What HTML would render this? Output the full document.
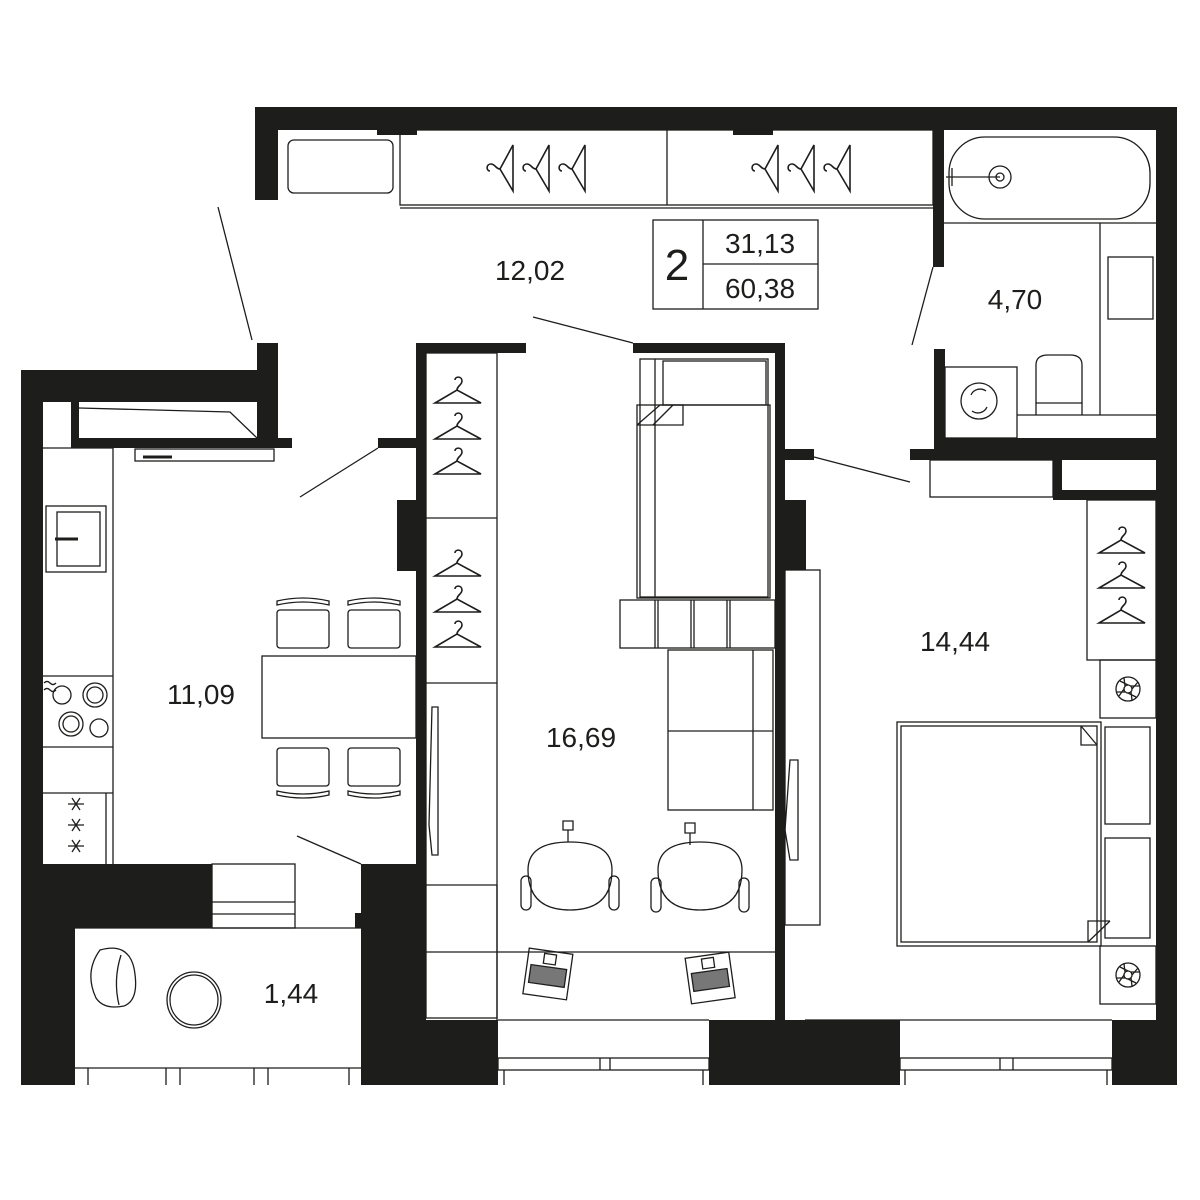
<!DOCTYPE html>
<html><head><meta charset="utf-8"><style>
html,body{margin:0;padding:0;background:#fff}
svg{display:block}
text{font-family:"Liberation Sans",sans-serif;fill:#1d1d1b}
</style></head><body>
<svg width="1200" height="1200" viewBox="0 0 1200 1200" xmlns="http://www.w3.org/2000/svg">
<defs>
<g id="hg" fill="none" stroke="#1d1d1b" stroke-width="1.6">
<path d="M-23,13 L-1,0 L23,13 Z" />
<path d="M-1,0 C-1,-4 4,-5 4,-9 C4,-14 -3,-14 -3,-10"/>
</g>
<g id="fan" fill="none" stroke="#1d1d1b" stroke-width="1.3">
<circle r="12"/><circle r="4"/>
<path d="M4,0 L10,-7 M0,4 L8,8 M-4,0 L-9,7 M0,-4 L-8,-8 M3,3 L4,11 M-3,-3 L-4,-11 M3,-3 L11,-3 M-3,3 L-11,3"/>
</g>
</defs>
<g fill="#1d1d1b">
<!-- top wall -->
<rect x="255" y="107" width="922" height="23"/>
<rect x="255" y="107" width="23" height="93"/>
<rect x="377" y="130" width="40" height="5"/>
<rect x="733" y="130" width="40" height="5"/>
<!-- right wall -->
<rect x="1156" y="107" width="21" height="978"/>
<!-- bath walls -->
<rect x="933" y="130" width="11" height="137"/>
<rect x="934" y="349" width="11" height="100"/>
<rect x="934" y="438" width="222" height="12"/>
<rect x="910" y="449" width="246" height="11"/>
<rect x="1053" y="460" width="9" height="40"/>
<rect x="1053" y="490" width="103" height="10"/>
<!-- bedroom left wall -->
<rect x="775" y="343" width="10" height="742"/>
<rect x="633" y="343" width="152" height="10"/>
<rect x="785" y="449" width="29" height="11"/>
<rect x="785" y="500" width="21" height="70"/>
<!-- living left wall -->
<rect x="416" y="343" width="10" height="742"/>
<rect x="416" y="343" width="110" height="10"/>
<rect x="397" y="500" width="20" height="71"/>
<rect x="378" y="438" width="40" height="10"/>
<!-- kitchen walls -->
<rect x="21" y="370" width="22" height="715"/>
<rect x="21" y="370" width="257" height="32"/>
<rect x="257" y="343" width="21" height="105"/>
<rect x="71" y="402" width="8" height="46"/>
<rect x="71" y="438" width="221" height="10"/>
<!-- bottom kitchen/balcony -->
<rect x="21" y="864" width="191" height="64"/>
<rect x="21" y="864" width="54" height="221"/>
<rect x="361" y="864" width="65" height="221"/>
<rect x="355" y="913" width="8" height="15"/>
<rect x="426" y="1020" width="72" height="65"/>
<rect x="709" y="1020" width="91" height="65"/>
<rect x="780" y="1020" width="120" height="65"/>
<rect x="1112" y="1020" width="65" height="65"/>
</g>
<g fill="none" stroke="#1d1d1b" stroke-width="1.3">
<!-- door swings -->
<line x1="218" y1="207" x2="252" y2="340"/>
<line x1="300" y1="497" x2="378" y2="448"/>
<line x1="933" y1="267" x2="912" y2="345"/>
<line x1="814" y1="457" x2="910" y2="482"/>
<line x1="533" y1="317" x2="633" y2="343"/>
<line x1="297" y1="836" x2="361" y2="864"/>
<!-- hall closet -->
<rect x="288" y="140" width="105" height="53" rx="6"/>
<rect x="400" y="130" width="533" height="75"/>
<line x1="667" y1="130" x2="667" y2="205"/>
<line x1="400" y1="208" x2="933" y2="208"/>
<!-- label box -->
<rect x="653" y="220" width="165" height="89"/>
<line x1="703" y1="220" x2="703" y2="309"/>
<line x1="703" y1="264" x2="818" y2="264"/>
<!-- hood vent box -->
<polyline points="79,408 230,412 257,438"/>
<rect x="135" y="449" width="139" height="12"/>
<line x1="143" y1="457" x2="172" y2="457" stroke-width="3"/>
<!-- kitchen counter -->
<line x1="43" y1="448" x2="113" y2="448"/>
<line x1="113" y1="448" x2="113" y2="864"/>
<rect x="46" y="506" width="60" height="66"/>
<rect x="57" y="512" width="43" height="54"/>
<line x1="55" y1="539" x2="78" y2="539" stroke-width="3"/>
<line x1="43" y1="676" x2="113" y2="676"/>
<line x1="43" y1="747" x2="113" y2="747"/>
<circle cx="62" cy="695" r="9"/>
<circle cx="95" cy="695" r="12"/><circle cx="95" cy="695" r="8"/>
<circle cx="71" cy="724" r="12"/><circle cx="71" cy="724" r="8"/>
<circle cx="99" cy="728" r="9"/>
<path d="M44,683 q3,-3 6,0 t6,0 M44,690 q3,-3 6,0 t6,0"/>
<line x1="43" y1="793" x2="113" y2="793"/>
<line x1="106" y1="793" x2="106" y2="864"/>
<path d="M68,804 h16 M72,798 l8,12 M80,798 l-8,12 M68,825 h16 M72,819 l8,12 M80,819 l-8,12 M68,846 h16 M72,840 l8,12 M80,840 l-8,12"/>
<!-- table & chairs -->
<rect x="262" y="656" width="154" height="82"/>
<rect x="277" y="610" width="52" height="38" rx="3"/><path d="M277,605 q26,-6 52,0 v-4 q-26,-6 -52,0 z"/>
<rect x="348" y="610" width="52" height="38" rx="3"/><path d="M348,605 q26,-6 52,0 v-4 q-26,-6 -52,0 z"/>
<rect x="277" y="748" width="52" height="38" rx="3"/><path d="M277,791 q26,6 52,0 v4 q-26,6 -52,0 z"/>
<rect x="348" y="748" width="52" height="38" rx="3"/><path d="M348,791 q26,6 52,0 v4 q-26,6 -52,0 z"/>
<!-- balcony -->
<rect x="212" y="864" width="83" height="64"/>
<line x1="212" y1="902" x2="295" y2="902"/><line x1="212" y1="914" x2="295" y2="914"/>
<line x1="75" y1="928" x2="361" y2="928"/>
<line x1="75" y1="1068" x2="361" y2="1068"/>
<path d="M88,1068 v17 M166,1068 v17 M180,1068 v17 M254,1068 v17 M268,1068 v17 M349,1068 v17"/>
<path d="M100,950 q28,-8 34,18 q6,32 -10,38 q-20,4 -28,-8 q-12,-26 4,-48 z"/>
<path d="M121,955 q-8,25 -2,50"/>
<ellipse cx="194" cy="1000" rx="27" ry="28"/><ellipse cx="194" cy="1000" rx="24" ry="25"/>
<!-- living closet -->
<rect x="426" y="353" width="71" height="665"/>
<line x1="426" y1="518" x2="497" y2="518"/>
<line x1="426" y1="683" x2="497" y2="683"/>
<line x1="426" y1="885" x2="497" y2="885"/>
<line x1="426" y1="952" x2="775" y2="952"/>
<line x1="497" y1="885" x2="497" y2="1020"/>
<path d="M432,707 h6 v148 h-6 l-3,-30 z"/>
<!-- bunk bed -->
<rect x="640" y="359" width="128" height="238"/>
<line x1="655" y1="359" x2="655" y2="597"/>
<rect x="663" y="361" width="103" height="44"/>
<rect x="637" y="405" width="133" height="193"/>
<polyline points="637,425 660,405 683,405 683,425 637,425"/>
<line x1="653" y1="425" x2="673" y2="405"/>
<rect x="620" y="600" width="155" height="48"/>
<path d="M655,600 v48 M658,600 v48 M691,600 v48 M694,600 v48 M727,600 v48 M730,600 v48"/>
<!-- sofa -->
<rect x="668" y="650" width="105" height="160"/>
<line x1="668" y1="731" x2="773" y2="731"/>
<line x1="753" y1="650" x2="753" y2="810"/>
<!-- desk chairs -->
<path d="M528,870 q0,-28 42,-28 q42,0 42,28 q0,40 -42,40 q-42,0 -42,-40 z"/>
<rect x="521" y="876" width="10" height="34" rx="5"/><rect x="609" y="876" width="10" height="34" rx="5"/>
<path d="M568,842 v-12 M563,830 h10 v-9 h-10 z"/>
<path d="M658,870 q0,-28 42,-28 q42,0 42,28 q0,40 -42,40 q-42,0 -42,-40 z"/>
<rect x="651" y="878" width="10" height="34" rx="5"/><rect x="739" y="878" width="10" height="34" rx="5"/>
<path d="M690,845 v-12 M685,833 h10 v-10 h-10 z"/>
<!-- laptops -->
<g transform="translate(548,973) rotate(8)"><rect x="-22" y="-22" width="44" height="46"/><rect x="-6" y="-19" width="12" height="10"/><rect x="-18" y="-6" width="36" height="18" fill="#777"/></g>
<g transform="translate(710,977) rotate(-8)"><rect x="-22" y="-22" width="44" height="46"/><rect x="-6" y="-19" width="12" height="10"/><rect x="-18" y="-6" width="36" height="18" fill="#777"/></g>
<!-- living window -->
<line x1="498" y1="1020" x2="709" y2="1020"/>
<rect x="498" y="1058" width="211" height="12"/>
<path d="M600,1058 v12 M610,1058 v12 M504,1070 v15 M703,1070 v15"/>
<!-- bath -->
<rect x="949" y="137" width="201" height="82" rx="36"/>
<circle cx="1000" cy="177" r="11"/><circle cx="1000" cy="177" r="4"/>
<path d="M946,177 h54 M952,168 v18"/>
<line x1="944" y1="223" x2="1156" y2="223"/>
<line x1="1100" y1="223" x2="1100" y2="415"/>
<rect x="1108" y="257" width="45" height="62"/>
<line x1="1017" y1="415" x2="1156" y2="415"/>
<rect x="945" y="367" width="72" height="71"/>
<circle cx="979" cy="401" r="18"/>
<path d="M971,395 a10,10 0 0 1 15,-4 M987,407 a10,10 0 0 1 -15,4"/>
<path d="M1036,365 q0,-10 12,-10 h22 q12,0 12,10 v38 h-46 z"/>
<line x1="1036" y1="403" x2="1036" y2="415"/><line x1="1082" y1="403" x2="1082" y2="415"/>
<!-- bedroom storage -->
<rect x="930" y="460" width="123" height="37"/>
<rect x="1087" y="500" width="69" height="160"/>
<rect x="1100" y="660" width="56" height="58"/>
<rect x="1100" y="946" width="56" height="58"/>
<rect x="785" y="570" width="35" height="355"/>
<path d="M790,760 h8 v100 h-8 l-5,-30 z"/>
<!-- bed -->
<rect x="897" y="722" width="204" height="224"/>
<rect x="901" y="726" width="196" height="216"/>
<polyline points="1081,726 1081,745 1097,745"/>
<line x1="1081" y1="726" x2="1097" y2="745"/>
<polyline points="1088,942 1088,921 1110,921"/>
<line x1="1088" y1="942" x2="1110" y2="921"/>
<rect x="1105" y="727" width="45" height="97"/>
<rect x="1105" y="838" width="45" height="100"/>
<!-- bedroom window -->
<line x1="805" y1="1020" x2="1112" y2="1020"/>
<rect x="900" y="1058" width="212" height="12"/>
<path d="M1000,1058 v12 M1013,1058 v12 M905,1070 v15 M1107,1070 v15"/>
</g>
<!-- hangers -->
<use href="#hg" x="458" y="390"/><use href="#hg" x="458" y="426"/><use href="#hg" x="458" y="461"/>
<use href="#hg" x="458" y="563"/><use href="#hg" x="458" y="599"/><use href="#hg" x="458" y="634"/>
<use href="#hg" x="1122" y="540"/><use href="#hg" x="1122" y="575"/><use href="#hg" x="1122" y="610"/>
<g transform="translate(500,168) rotate(-90)"><use href="#hg"/></g>
<g transform="translate(536,168) rotate(-90)"><use href="#hg"/></g>
<g transform="translate(572,168) rotate(-90)"><use href="#hg"/></g>
<g transform="translate(765,168) rotate(-90)"><use href="#hg"/></g>
<g transform="translate(801,168) rotate(-90)"><use href="#hg"/></g>
<g transform="translate(837,168) rotate(-90)"><use href="#hg"/></g>
<use href="#fan" x="1128" y="689"/>
<use href="#fan" x="1128" y="975"/>
<!-- labels -->
<g font-size="28">
<text x="530" y="280" text-anchor="middle">12,02</text>
<text x="1015" y="309" text-anchor="middle">4,70</text>
<text x="201" y="704" text-anchor="middle">11,09</text>
<text x="581" y="747" text-anchor="middle">16,69</text>
<text x="955" y="651" text-anchor="middle">14,44</text>
<text x="291" y="1003" text-anchor="middle">1,44</text>
<text x="760" y="253" text-anchor="middle">31,13</text>
<text x="760" y="298" text-anchor="middle">60,38</text>
</g>
<text x="677" y="280" font-size="44" text-anchor="middle">2</text>
</svg>
</body></html>
